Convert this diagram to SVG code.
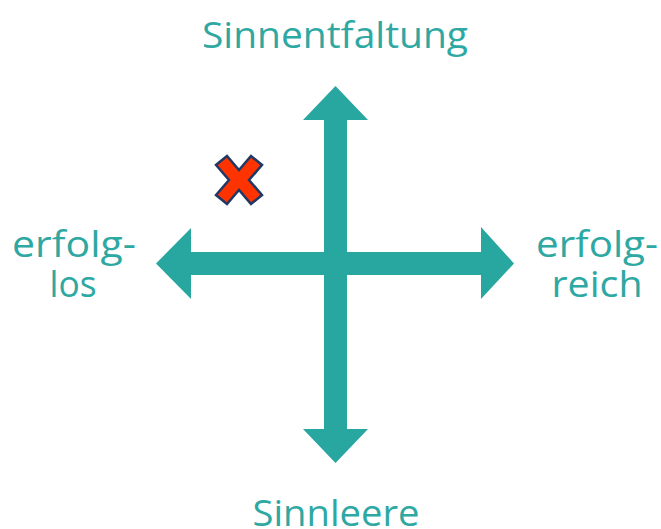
<svg xmlns="http://www.w3.org/2000/svg" width="661" height="529" viewBox="0 0 661 529">
  <style>
    .axis { fill: #27A79F; }
    .label { fill: #2EA8A2; font-family: "Open Sans", "Liberation Sans", sans-serif; font-size: 37px; text-anchor: middle; }
    .mark { fill: #FF3300; stroke: #1F3864; stroke-width: 2.5; stroke-linejoin: miter; }
  </style>
  <rect width="661" height="529" fill="#FFFFFF"/>

  <!-- axes: two double-headed arrows crossing at the centre -->
  <g id="connectors">
    <polygon id="axis-horizontal" class="axis"
      points="156,263.5 191,228 191,252 481,252 481,227 514,263.5 481,299 481,275 191,275 191,299"/>
    <polygon id="axis-vertical" class="axis"
      points="335.5,86 368,120 347,120 347,429 368,429 335.5,463 303,429 324,429 324,120 303,120"/>
  </g>

  <g id="top-label">
    <text class="label" x="335" y="48" textLength="266" lengthAdjust="spacingAndGlyphs">Sinnentfaltung</text>
  </g>
  <g id="bottom-label">
    <text class="label" x="336" y="526" textLength="167" lengthAdjust="spacingAndGlyphs">Sinnleere</text>
  </g>
  <g id="left-label">
    <text class="label" x="74" y="257" textLength="124" lengthAdjust="spacingAndGlyphs">erfolg-</text>
    <text class="label" x="73" y="297" textLength="47" lengthAdjust="spacingAndGlyphs">los</text>
  </g>
  <g id="right-label">
    <text class="label" x="597" y="257" textLength="122" lengthAdjust="spacingAndGlyphs">erfolg-</text>
    <text class="label" x="597" y="297" textLength="91" lengthAdjust="spacingAndGlyphs">reich</text>
  </g>

  <!-- position marker in the upper-left quadrant -->
  <g id="marker">
    <polygon class="mark"
      points="239,170 251,156 262,165 249,180 262,195 251,204 239,190 227,204 216,195 229,180 216,165 227,156"/>
  </g>
</svg>
